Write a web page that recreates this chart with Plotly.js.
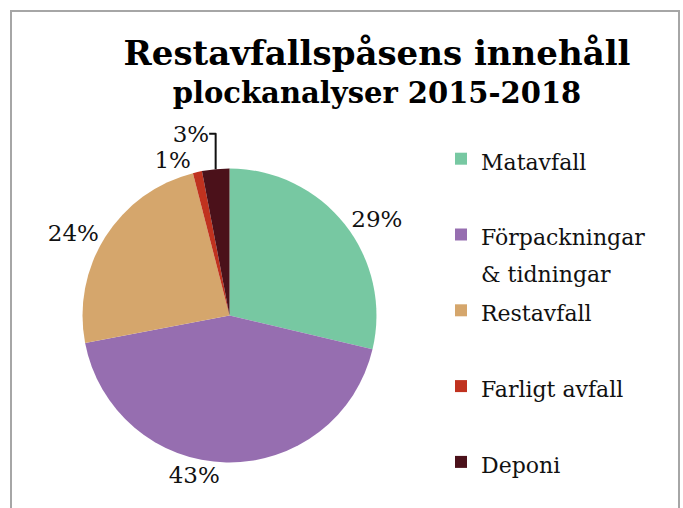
<!DOCTYPE html>
<html>
<head>
<meta charset="utf-8">
<script src="https://cdn.plot.ly/plotly-3.0.1.min.js"></script>
<style>
  body { margin: 0; background: #fff; }
  #wrap { position: relative; width: 683px; height: 508px; overflow: hidden; }
  #frame { position: absolute; left: 10px; top: 10px; width: 666px; height: 540px; border: 2px solid #a6a6a6; pointer-events: none; }
  #chart { position: absolute; left: 0; top: 0; width: 683px; height: 508px; }
</style>
</head>
<body>
<div id="wrap">
  <div id="chart"></div>
  <div id="frame"></div>
</div>
<script>
// andelar i restavfallspåsen, läst från bilden
const categories = ["Matavfall", "Förpackningar & tidningar", "Restavfall", "Farligt avfall", "Deponi"];
const legendLines = ["Matavfall", "Förpackningar<br>& tidningar", "Restavfall", "Farligt avfall", "Deponi"];
const shares = [28.7, 43.3, 24.0, 1.0, 3.0];
const colors = ["#77c8a2", "#966eb0", "#d5a66c", "#c0321f", "#4b111a"];

const serif = "DejaVu Serif, Georgia, serif";

// legend text: small span for the words, a blank line for spacing (not on the last one)
const legendText = legendLines.map((t, i) => {
  const spans = t.split("<br>").map(p => `<span style="font-size:22px">${p}</span>`);
  if (spans.length < 2 && i < legendLines.length - 1) spans.push(" ");
  return spans.join("<br>");
});

Plotly.newPlot("chart", [{
  type: "pie",
  labels: legendText,
  values: shares,
  sort: false,
  direction: "clockwise",
  rotation: 0,
  marker: { colors: colors, line: { width: 0 } },
  textinfo: "percent",
  texttemplate: "%{percent:.0%}",
  textposition: "outside",
  outsidetextfont: { family: serif, size: 23, color: "#111" },
  hovertext: categories,
  hoverinfo: "text+percent",
  domain: { x: [0.1208, 0.5512], y: [0.0896, 0.6683] }
}], {
  width: 683,
  height: 508,
  paper_bgcolor: "#fff",
  margin: { l: 0, r: 0, t: 0, b: 0, autoexpand: false },
  font: { family: serif, color: "#111" },
  title: {
    text: '<span style="font-size:34px"><b>Restavfallspåsens innehåll</b></span><br><span style="font-size:29px"><b>plockanalyser 2015-2018</b></span>',
    font: { family: serif, size: 29, color: "#000" },
    xref: "container", x: 377 / 683, xanchor: "center",
    yref: "container", y: 1 - 65 / 508, yanchor: "top"
  },
  showlegend: true,
  legend: {
    // margins are zero, so paper coordinates equal the page
    xref: "paper", yref: "paper",
    x: 441 / 683, xanchor: "left",
    y: 1 - 134 / 508, yanchor: "top",
    valign: "top",
    font: { family: serif, size: 28, color: "#111" },
    bgcolor: "rgba(0,0,0,0)"
  }
}, { displayModeBar: false, staticPlot: true });
</script>
</body>
</html>
